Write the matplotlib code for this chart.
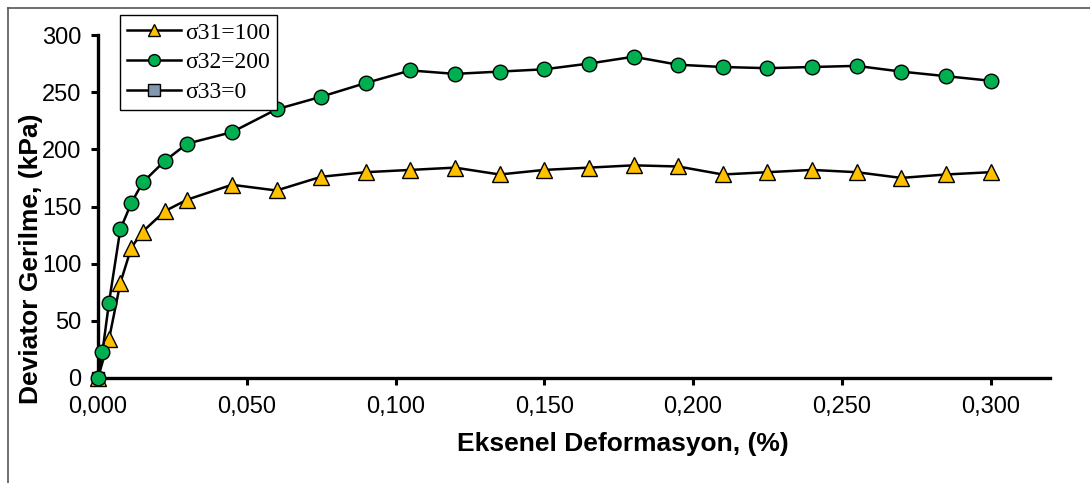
import matplotlib.pyplot as plt
from matplotlib.lines import Line2D
from matplotlib.ticker import FuncFormatter

# axial strain (%) and deviator stress (kPa)
strain_100 = [0.0, 0.0037, 0.0075, 0.0112, 0.015, 0.0225, 0.030, 0.045, 0.060,
              0.075, 0.090, 0.105, 0.120, 0.135, 0.150, 0.165, 0.180, 0.195,
              0.210, 0.225, 0.240, 0.255, 0.270, 0.285, 0.300]
stress_100 = [0, 34, 83, 114, 128, 146, 156, 169, 164, 176, 180, 182, 184, 178,
              182, 184, 186, 185, 178, 180, 182, 180, 175, 178, 180]

strain_200 = [0.0, 0.0015, 0.0037, 0.0075, 0.0112, 0.015, 0.0225, 0.030, 0.045,
              0.060, 0.075, 0.090, 0.105, 0.120, 0.135, 0.150, 0.165, 0.180,
              0.195, 0.210, 0.225, 0.240, 0.255, 0.270, 0.285, 0.300]
stress_200 = [0, 23, 66, 130, 153, 171, 190, 205, 215, 235, 246, 258, 269, 266,
              268, 270, 275, 281, 274, 272, 271, 272, 273, 268, 264, 260]

strain_0 = [0.0]
stress_0 = [0]

labels = ["σ31=100", "σ32=200", "σ33=0"]

W, H = 1090, 483
fig = plt.figure(figsize=(W / 100, H / 100), dpi=100)
ax = fig.add_axes([98 / W, 1 - 378 / H, (1050 - 98) / W, (378 - 35) / H])

line_kw = dict(color="black", lw=1.8, markeredgecolor="black", markeredgewidth=1.0, clip_on=False)
ax.plot(strain_0, stress_0, marker="s", markersize=9, markerfacecolor="#8497B0",
        label=labels[2], zorder=2, **line_kw)
ax.plot(strain_100, stress_100, marker="^", markersize=11, markerfacecolor="#FFC000",
        label=labels[0], zorder=3, **line_kw)
ax.plot(strain_200, stress_200, marker="o", markersize=10.5, markerfacecolor="#00B050",
        label=labels[1], zorder=4, **line_kw)

ax.set_xlim(0, 0.32)
ax.set_ylim(0, 300)
ax.set_xticks([0, 0.05, 0.10, 0.15, 0.20, 0.25, 0.30])
ax.set_yticks(range(0, 301, 50))
ax.xaxis.set_major_formatter(FuncFormatter(lambda v, p: f"{v:.3f}".replace(".", ",")))

for side in ("top", "right"):
    ax.spines[side].set_visible(False)
for side in ("left", "bottom"):
    ax.spines[side].set_linewidth(2.4)
ax.tick_params(direction="out", length=5, width=2.2, labelsize=17)
ax.tick_params(axis="x", pad=8)
ax.tick_params(axis="y", pad=7)
for t in ax.get_xticklabels() + ax.get_yticklabels():
    t.set_family("Liberation Sans")

ax.set_xlabel("Eksenel Deformasyon, (%)", fontsize=19, fontweight="bold",
              family="Liberation Sans")
ax.xaxis.set_label_coords((623 - 98) / 952, (378 - 432) / 343)
ax.set_ylabel("Deviator Gerilme, (kPa)", fontsize=19, fontweight="bold",
              family="Liberation Sans")
ax.yaxis.set_label_coords((43 - 98) / 952, (378 - 259) / 343)

# legend keeps the series order of the original
h, l = ax.get_legend_handles_labels()
order = [l.index(s) for s in labels]
leg = ax.legend([h[i] for i in order], [l[i] for i in order],
                loc="upper left", bbox_to_anchor=(120 / W, 1 - 15 / H),
                bbox_transform=fig.transFigure, fancybox=False, framealpha=1,
                edgecolor="black", handlelength=2.3, handletextpad=0.15,
                borderpad=0.3, labelspacing=0.35, borderaxespad=0,
                prop={"family": "Liberation Serif", "size": 17})
leg.get_frame().set_linewidth(1.0)
for hd in leg.legend_handles:
    hd.set_markersize(8.5)

# chart-area border (only top and left edges fall inside the image)
fig.add_artist(Line2D([8 / W, 1], [1 - 8 / H, 1 - 8 / H], transform=fig.transFigure,
                      color="#555555", lw=1.2))
fig.add_artist(Line2D([8 / W, 8 / W], [0, 1 - 8 / H], transform=fig.transFigure,
                      color="#555555", lw=1.2))

fig.savefig("out.png", dpi=100)
